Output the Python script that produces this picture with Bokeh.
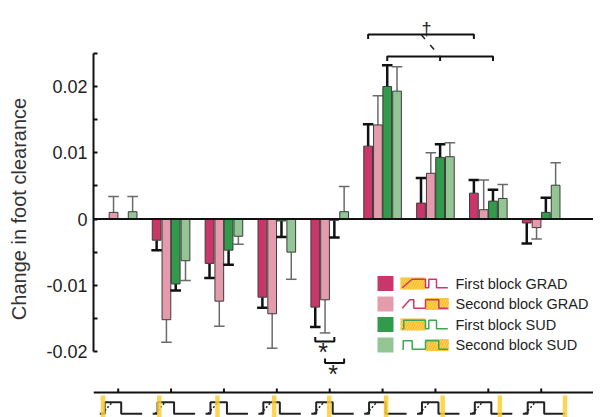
import numpy as np
from bokeh.plotting import figure
from bokeh.models import Range1d, LinearAxis, FixedTicker, CustomJSTickFormatter, Span
from bokeh.embed import file_html
from bokeh.resources import INLINE
from bokeh.core.properties import value

# ---------------- data ----------------
groups = [0, 1, 2, 3, 4, 5, 6, 7, 8]
series_names = ["First block GRAD", "Second block GRAD", "First block SUD", "Second block SUD"]

first_grad      = [0.0, -0.0032, -0.0067, -0.0118, -0.0133, 0.0110, 0.0024, 0.0039, -0.0006]
first_grad_err  = [0.0, 0.0015, 0.0022, 0.0016, 0.0030, 0.0033, 0.0038, 0.0020, 0.0031]
second_grad     = [0.0010, -0.0152, -0.0124, -0.0143, -0.0122, 0.0142, 0.0069, 0.0014, -0.0013]
second_grad_err = [0.0024, 0.0034, 0.0038, 0.0052, 0.0050, 0.0044, 0.0031, 0.0045, 0.0017]
first_sud       = [0.0, -0.0098, -0.0047, -0.0003, -0.0002, 0.0200, 0.0093, 0.0027, 0.0010]
first_sud_err   = [0.0, 0.0010, 0.0022, 0.0024, 0.0026, 0.0032, 0.0020, 0.0017, 0.0022]
second_sud      = [0.0011, -0.0063, -0.0026, -0.0050, 0.0011, 0.0193, 0.0094, 0.0031, 0.0051]
second_sud_err  = [0.0023, 0.0030, 0.0012, 0.0041, 0.0038, 0.0037, 0.0021, 0.0021, 0.0034]

y_ticks = [-0.02, -0.01, 0, 0.01, 0.02]
y_minor = [-0.015, -0.005, 0.005, 0.015, 0.025]
y_label = "Change in foot clearance"

# highlighted step position inside each x-axis icon (px relative to group centre)
marker_offsets = [-15.2, -11.8, -6.5, -2.7, -0.5, 3.5, 7.2, 11.5, 23.8]

# ---------------- layout helpers ----------------
XPX = 52.875      # px per group
YPX = 6625.0      # px per unit
Y0 = 218.5        # window px of zero
G0 = 117.7        # window px of group 0
def vy(px):       # window px -> data y
    return (Y0 - px) / YPX
def vx(px):       # window px -> data x
    return (px - G0) / XPX

FONT = "Liberation Sans"
colors = ["#c9366a", "#e49bab", "#319b4b", "#93c595"]
err_colors = ["#111111", "#6a6a6a", "#111111", "#6a6a6a"]
err_widths = [2.5, 1.5, 2.5, 1.5]
offs = [-0.273, -0.088, 0.088, 0.273]
bar_w = 0.165
cap = 0.1

p = figure(width=593, height=417,
           x_range=Range1d(vx(93), vx(593)), y_range=Range1d(vy(417), vy(0)),
           output_backend="svg", toolbar_location=None,
           x_axis_type=None, y_axis_type=None,
           min_border_left=93, min_border_right=0, min_border_top=0, min_border_bottom=0)
p.outline_line_color = None
p.background_fill_color = "white"
p.border_fill_color = "white"

yaxis = LinearAxis(ticker=FixedTicker(ticks=y_ticks, minor_ticks=y_minor),
                   formatter=CustomJSTickFormatter(code="return tick == 0 ? '0' : tick.toFixed(2);"),
                   bounds=(-0.02, 0.025))
yaxis.axis_label = y_label
yaxis.axis_label_text_font = FONT
yaxis.axis_label_text_font_size = "20px"
yaxis.axis_label_text_font_style = "normal"
yaxis.axis_label_text_color = "#333333"
yaxis.axis_label_standoff = 13
yaxis.major_label_text_font = FONT
yaxis.major_label_text_font_size = "18px"
yaxis.major_label_text_color = "#222222"
yaxis.major_label_standoff = 6
yaxis.axis_line_width = 2
yaxis.axis_line_color = "#111111"
yaxis.major_tick_in = 4
yaxis.major_tick_out = 0
yaxis.minor_tick_in = 4
yaxis.minor_tick_out = 0
yaxis.major_tick_line_width = 2
yaxis.minor_tick_line_width = 2
yaxis.major_tick_line_color = "#111111"
yaxis.minor_tick_line_color = "#111111"
p.add_layout(yaxis, "left")

# ---------------- bars + error bars ----------------
all_vals = [first_grad, second_grad, first_sud, second_sud]
all_errs = [first_grad_err, second_grad_err, first_sud_err, second_sud_err]
for k in range(4):
    xs = np.array([g + offs[k] for g, v in zip(groups, all_vals[k]) if v != 0])
    tops = np.array([v for v in all_vals[k] if v != 0])
    errs = np.array([e for v, e in zip(all_vals[k], all_errs[k]) if v != 0])
    ends = tops + np.sign(tops) * errs
    p.segment(x0=xs, y0=tops, x1=xs, y1=ends, line_color=err_colors[k], line_width=err_widths[k])
    p.segment(x0=xs - cap, y0=ends, x1=xs + cap, y1=ends, line_color=err_colors[k], line_width=err_widths[k])
    p.vbar(x=xs, width=bar_w, top=tops, bottom=0, fill_color=colors[k],
           line_color="#3c3c3c", line_width=1)

p.add_layout(Span(location=0, dimension="width", line_color="#111111", line_width=2))

# ---------------- significance brackets (bottom) ----------------
def bracket(x0, x1, y, leg, color="#111111", w=2):
    p.multi_line(xs=[[x0, x0, x1, x1]], ys=[[y + leg, y, y, y + leg]], line_color=color, line_width=w)

b1 = (4 + offs[0], 4 + offs[2])
b2 = (4 + offs[1], 4 + offs[3])
bracket(b1[0], b1[1], vy(341), vy(336.5) - vy(341))
bracket(b2[0], b2[1], vy(362.5), vy(358) - vy(362.5))
p.text(x=[(b1[0] + b1[1]) / 2 - 0.03, (b2[0] + b2[1]) / 2 - 0.03],
       y=[vy(351), vy(373)], text=["*", "*"],
       text_font=value(FONT), text_font_size="25px", text_color="#222222",
       text_align="center", text_baseline="middle")

# ---------------- brackets (top) ----------------
up = (5 + offs[0], 7 + offs[0])
lo = (5 + offs[2], 7 + offs[2])
yu, yl = vy(34), vy(56)
leg = vy(38.5) - vy(34)
bracket(up[0], up[1], yu, leg)
bracket(lo[0], lo[1], yl, leg)
p.segment(x0=[6 + offs[2]], y0=[yl], x1=[6 + offs[2]], y1=[yl + leg], line_color="#111111", line_width=2)
p.segment(x0=[6 + offs[0]], y0=[yu], x1=[6 + offs[2]], y1=[yl], line_color="#222222",
          line_width=1.5, line_dash="6 8")
p.text(x=[vx(426)], y=[vy(28)], text=["†"], text_font=value(FONT), text_font_size="18px",
       text_color="#222222", text_align="center", text_baseline="alphabetic")

# ---------------- legend ----------------
leg_y = [vy(283 + 20.5 * i) for i in range(4)]
half_h = 7.5 / YPX
p.quad(left=[vx(377)] * 4, right=[vx(393)] * 4,
       bottom=[y - half_h for y in leg_y], top=[y + half_h for y in leg_y],
       fill_color=colors, line_color=None)
hl = [(400, 425), (425, 448.3), (400, 425), (425, 448.3)]
p.quad(left=[vx(a) for a, b in hl], right=[vx(b) for a, b in hl],
       bottom=[y - 6 / YPX for y in leg_y], top=[y + 6 / YPX for y in leg_y],
       fill_color="#ffd24d", line_color=None, hatch_pattern="right_diagonal_line",
       hatch_color="#f4b62a", hatch_scale=5, hatch_weight=1)
waves = [
    [(1.7, -1), (11.7, 1), (25, 1), (25, -1), (28.3, -1), (28.3, 1), (36, 1), (36, -1), (47.3, -1)],
    [(1.7, -1), (9.3, 1), (13.3, 1), (13.3, -1), (25, -1), (25, 1), (38.3, 1), (38.3, -1), (47.3, -1)],
    [(1.7, -1), (3.3, -1), (3.3, 1), (25, 1), (25, -1), (28.3, -1), (28.3, 1), (36, 1), (36, -1), (47.3, -1)],
    [(1.7, -1), (2.7, -1), (2.7, 1), (11.7, 1), (11.7, -1), (25, -1), (25, 1), (38.3, 1), (38.3, -1), (47.3, -1)],
]
wave_cols = ["#d0356c", "#d0356c", "#3ea654", "#3ea654"]
amp = 4.2 / YPX
p.multi_line(xs=[[vx(400 + a) for a, s in w] for w in waves],
             ys=[[leg_y[i] + s * amp for a, s in w] for i, w in enumerate(waves)],
             line_color=wave_cols, line_width=1.5)
p.text(x=[vx(455)] * 4, y=leg_y, text=series_names, text_font=value(FONT),
       text_font_size="14.5px", text_color="#222222", text_baseline="middle", text_align="left")

# ---------------- x axis line with icons ----------------
y_ax = vy(392)
p.add_layout(Span(location=y_ax, dimension="width", line_color="#111111", line_width=2))
p.segment(x0=groups, y0=[y_ax] * 9, x1=groups, y1=[vy(388)] * 9, line_color="#111111", line_width=2)

hi, low = vy(401.7), vy(413.3)
wx, wy, dxs, dys = [], [], [], []
for g in groups:
    wx.append([g + d / XPX for d in (-18.4, -13.5, -13.5, 3, 3, 24)])
    wy.append([low, low, hi, hi, low, low])
    dxs.append([g - 16 / XPX, g - 6 / XPX])
    dys.append([low, hi])
p.multi_line(xs=wx, ys=wy, line_color="#222222", line_width=2)
p.multi_line(xs=dxs, ys=dys, line_color="#222222", line_width=1.5, line_dash="2 2")
p.quad(left=[g + (m - 2.25) / XPX for g, m in zip(groups, marker_offsets)],
       right=[g + (m + 2.25) / XPX for g, m in zip(groups, marker_offsets)],
       bottom=[vy(417)] * 9, top=[vy(395)] * 9,
       fill_color="#ffcc33", fill_alpha=0.85, line_color=None)

open("out.html", "w").write(file_html(p, INLINE))
